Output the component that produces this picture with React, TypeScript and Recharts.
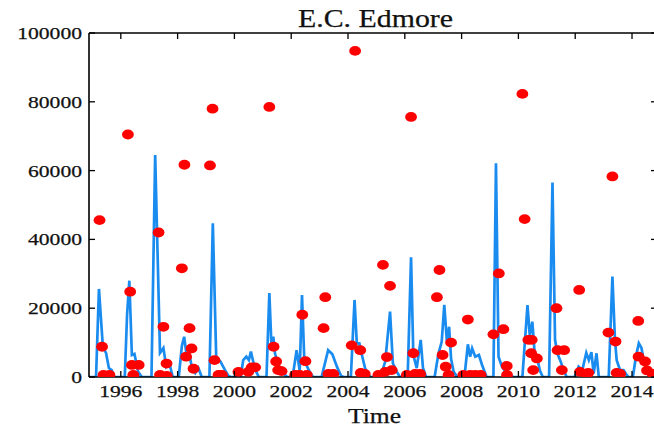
import React from 'react';
import { ComposedChart, Line, Scatter, XAxis, YAxis } from 'recharts';

// Title and axis caption
const TITLE = 'E.C. Edmore';
const X_CAPTION = 'Time';

// Tick values
const yearTicks = [1996, 1998, 2000, 2002, 2004, 2006, 2008, 2010, 2012, 2014];
const valueTicks = [0, 20000, 40000, 60000, 80000, 100000];
const timeDomain: [number, number] = [1994.88, 2014.88];
const valueDomain: [number, number] = [0, 100000];

// Simulated flow (blue line), [decimal year, value]
const flow: [number, number][] = [
  [1994.88, 0], [1995.1, 0], [1995.13, 500], [1995.23, 25600], [1995.37, 8600], [1995.48, 7000], [1995.58, 2600], [1995.68, 2000], [1995.77, 0],
  [1996.14, 0], [1996.22, 18000], [1996.3, 28000], [1996.39, 6400], [1996.48, 6700], [1996.61, 1500], [1996.74, 0],
  [1997.08, 0], [1997.21, 64500], [1997.38, 7000], [1997.5, 8400], [1997.6, 3000], [1997.71, 4000], [1997.83, 0],
  [1998.04, 0], [1998.15, 9000], [1998.23, 11700], [1998.32, 6200], [1998.4, 7400], [1998.5, 2800], [1998.62, 1200], [1998.73, 2600], [1998.85, 0],
  [1999.12, 0], [1999.24, 44700], [1999.36, 5500], [1999.5, 4600], [1999.67, 2000], [1999.79, 300], [1999.88, 0],
  [2000.22, 0], [2000.31, 4900], [2000.42, 5900], [2000.51, 4900], [2000.58, 7400], [2000.69, 3500], [2000.77, 1500], [2000.86, 0],
  [2001.13, 0], [2001.23, 24400], [2001.31, 8000], [2001.37, 11700], [2001.43, 6800], [2001.5, 4900], [2001.61, 2000], [2001.73, 1000], [2001.86, 0],
  [2002.05, 0], [2002.19, 7800], [2002.3, 1800], [2002.38, 23800], [2002.46, 5200], [2002.56, 3000], [2002.67, 1200], [2002.77, 0],
  [2003.07, 0], [2003.3, 7800], [2003.45, 6600], [2003.62, 2800], [2003.76, 300], [2003.85, 0],
  [2004.1, 0], [2004.23, 22400], [2004.31, 9800], [2004.4, 9800], [2004.49, 6400], [2004.6, 2600], [2004.72, 600], [2004.8, 0],
  [2005.1, 0], [2005.2, 1500], [2005.31, 4500], [2005.48, 19000], [2005.58, 4000], [2005.72, 1500], [2005.83, 0],
  [2006.1, 0], [2006.22, 34800], [2006.3, 6400], [2006.42, 2600], [2006.56, 10800], [2006.64, 2600], [2006.75, 0],
  [2007.05, 0], [2007.18, 6600], [2007.3, 10300], [2007.39, 21000], [2007.48, 10500], [2007.56, 14600], [2007.63, 5200], [2007.72, 1500], [2007.85, 0],
  [2008.1, 0], [2008.22, 9500], [2008.3, 5900], [2008.37, 8300], [2008.48, 5900], [2008.61, 6400], [2008.72, 3500], [2008.88, 0],
  [2009.12, 0], [2009.21, 62100], [2009.3, 5900], [2009.42, 3000], [2009.59, 1000], [2009.71, 500], [2009.82, 0],
  [2010.14, 0], [2010.32, 20900], [2010.4, 12000], [2010.49, 16100], [2010.57, 7200], [2010.66, 5500], [2010.76, 1800], [2010.86, 0],
  [2011.08, 0], [2011.2, 56500], [2011.29, 10800], [2011.37, 6900], [2011.47, 4900], [2011.59, 2000], [2011.7, 0],
  [2011.98, 0], [2012.12, 3000], [2012.25, 2000], [2012.39, 7000], [2012.48, 4900], [2012.57, 7200], [2012.65, 1000], [2012.75, 6900], [2012.83, 0],
  [2013.18, 0], [2013.31, 29200], [2013.4, 10800], [2013.46, 4900], [2013.58, 2000], [2013.7, 2000], [2013.78, 1000], [2013.87, 0],
  [2014.03, 0], [2014.14, 6000], [2014.24, 9800], [2014.33, 8500], [2014.42, 4700], [2014.54, 2000], [2014.67, 600], [2014.78, 0], [2014.88, 0],
];

// Observed samples (red dots), [decimal year, value]
const samples: [number, number][] = [
  [1995.25, 45600], [1995.34, 8800], [1995.39, 600], [1995.6, 600],
  [1996.25, 70500], [1996.33, 24800], [1996.39, 3500], [1996.44, 600], [1996.63, 3500],
  [1997.33, 42000], [1997.38, 600], [1997.5, 14600], [1997.61, 3900], [1997.62, 300],
  [1998.15, 31600], [1998.24, 61700], [1998.3, 5900], [1998.42, 14200], [1998.49, 8300], [1998.56, 2400],
  [1999.14, 61500], [1999.23, 78000], [1999.3, 4900], [1999.44, 600], [1999.56, 600],
  [2000.14, 1500], [2000.49, 1500], [2000.61, 2800], [2000.73, 2800],
  [2001.23, 78500], [2001.38, 8800], [2001.47, 4500], [2001.54, 2000], [2001.66, 1700],
  [2002.14, 600], [2002.3, 600], [2002.39, 18100], [2002.5, 4600], [2002.55, 600],
  [2003.14, 14200], [2003.2, 23200], [2003.31, 900], [2003.48, 900],
  [2004.13, 9200], [2004.25, 94800], [2004.43, 7800], [2004.45, 1200], [2004.59, 900],
  [2005.07, 600], [2005.23, 32600], [2005.31, 1500], [2005.37, 5800], [2005.48, 26500], [2005.54, 2000],
  [2006.07, 600], [2006.22, 75600], [2006.3, 6900], [2006.36, 900], [2006.54, 900],
  [2007.13, 23200], [2007.22, 31100], [2007.33, 6400], [2007.44, 3000], [2007.54, 600], [2007.63, 10000],
  [2008.06, 600], [2008.22, 16700], [2008.3, 600], [2008.48, 600], [2008.67, 600],
  [2009.12, 12400], [2009.31, 30100], [2009.47, 13900], [2009.59, 3200], [2009.6, 600],
  [2010.14, 82300], [2010.22, 45900], [2010.35, 10800], [2010.47, 10800], [2010.45, 6900], [2010.52, 2000], [2010.65, 5400],
  [2011.34, 20000], [2011.38, 7800], [2011.53, 2000], [2011.61, 7800],
  [2012.14, 25300], [2012.17, 1500], [2012.41, 900], [2012.46, 1200],
  [2013.17, 12900], [2013.31, 58300], [2013.42, 10300], [2013.46, 1200], [2013.58, 900],
  [2014.22, 16300], [2014.23, 5900], [2014.46, 4500], [2014.53, 1900], [2014.73, 900],
];

const FONT = '"Liberation Serif", "Times New Roman", serif';
const INK = '#111';
const TICK_LEN = 6;
const DIGIT_W = 10.8;

function BottomTick(props: any) {
  const { x, y, payload } = props;
  const label = String(payload.value);
  const axisY = y - 20;
  return (
    <g>
      <line x1={x} x2={x} y1={axisY} y2={axisY - TICK_LEN} stroke="#000" strokeWidth={1.3} />
      <text x={x} y={y} textAnchor="middle" fontFamily={FONT} fontSize={17.5} fill={INK}
        stroke={INK} strokeWidth={0.25}
        textLength={label.length * DIGIT_W} lengthAdjust="spacingAndGlyphs">
        {label}
      </text>
    </g>
  );
}

function LeftTick(props: any) {
  const { x, y, payload } = props;
  const label = String(payload.value);
  const axisX = x + 7;
  return (
    <g>
      <line x1={axisX} x2={axisX + TICK_LEN} y1={y} y2={y} stroke="#000" strokeWidth={1.3} />
      <text x={x} y={y + 6} textAnchor="end" fontFamily={FONT} fontSize={17.5} fill={INK}
        stroke={INK} strokeWidth={0.25}
        textLength={label.length * DIGIT_W} lengthAdjust="spacingAndGlyphs">
        {label}
      </text>
    </g>
  );
}

function TopTick(props: any) {
  const { x, y } = props;
  return <line x1={x} x2={x} y1={y} y2={y + TICK_LEN} stroke="#000" strokeWidth={1.3} />;
}

function RightTick(props: any) {
  const { x, y } = props;
  return <line x1={x - TICK_LEN} x2={x} y1={y} y2={y} stroke="#000" strokeWidth={1.3} />;
}

function SampleDot(props: any) {
  const { cx, cy } = props;
  if (cx == null || cy == null) return null;
  return <ellipse cx={cx} cy={cy} rx={5.9} ry={4.9} fill="#ff0000" />;
}

export default function App() {
  const flowData = flow.map(([t, v]) => ({ t, v }));
  const sampleData = samples.map(([t, v]) => ({ t, v }));
  const spine = { stroke: '#000', strokeWidth: 1.6 };

  return (
    <div style={{ position: 'absolute', left: 0, top: 0, width: 654, height: 430, overflow: 'hidden', background: '#fff' }}>
      <ComposedChart width={660} height={430} margin={{ top: 32, right: 2, bottom: 0, left: 0 }}>
        <XAxis
          xAxisId="bottom"
          dataKey="t"
          type="number"
          domain={timeDomain}
          allowDataOverflow
          ticks={yearTicks}
          interval={0}
          height={53}
          tickSize={0}
          tickMargin={20}
          tickLine={false}
          axisLine={spine}
          tick={<BottomTick />}
          label={() => (
            <text x={374.5} y={423} textAnchor="middle" fontFamily={FONT} fontSize={20} fill={INK}
              stroke={INK} strokeWidth={0.25}
              textLength={53} lengthAdjust="spacingAndGlyphs">
              {X_CAPTION}
            </text>
          )}
        />
        <XAxis
          xAxisId="top"
          orientation="top"
          dataKey="t"
          type="number"
          domain={timeDomain}
          allowDataOverflow
          ticks={yearTicks}
          interval={0}
          height={1}
          tickSize={0}
          tickMargin={0}
          tickLine={false}
          axisLine={spine}
          tick={<TopTick />}
          label={() => (
            <text x={375.5} y={27} textAnchor="middle" fontFamily={FONT} fontSize={25} fill={INK}
              stroke={INK} strokeWidth={0.25}
              textLength={155} lengthAdjust="spacingAndGlyphs">
              {TITLE}
            </text>
          )}
        />
        <YAxis
          yAxisId="left"
          type="number"
          domain={valueDomain}
          allowDataOverflow
          ticks={valueTicks}
          interval={0}
          width={89}
          tickSize={0}
          tickMargin={7}
          tickLine={false}
          axisLine={spine}
          tick={<LeftTick />}
        />
        <YAxis
          yAxisId="right"
          orientation="right"
          type="number"
          domain={valueDomain}
          allowDataOverflow
          ticks={valueTicks}
          interval={0}
          width={1}
          tickSize={0}
          tickMargin={0}
          tickLine={false}
          axisLine={spine}
          tick={<RightTick />}
        />
        <Scatter
          xAxisId="bottom"
          yAxisId="left"
          data={sampleData}
          dataKey="v"
          shape={<SampleDot />}
          isAnimationActive={false}
        />
        <Line
          xAxisId="bottom"
          yAxisId="left"
          data={flowData}
          dataKey="v"
          type="linear"
          stroke="#1a8cf0"
          strokeWidth={2.7}
          dot={false}
          activeDot={false}
          isAnimationActive={false}
        />
        <Scatter
          xAxisId="top"
          yAxisId="right"
          data={sampleData}
          dataKey="v"
          shape={() => null}
          isAnimationActive={false}
        />
      </ComposedChart>
    </div>
  );
}
